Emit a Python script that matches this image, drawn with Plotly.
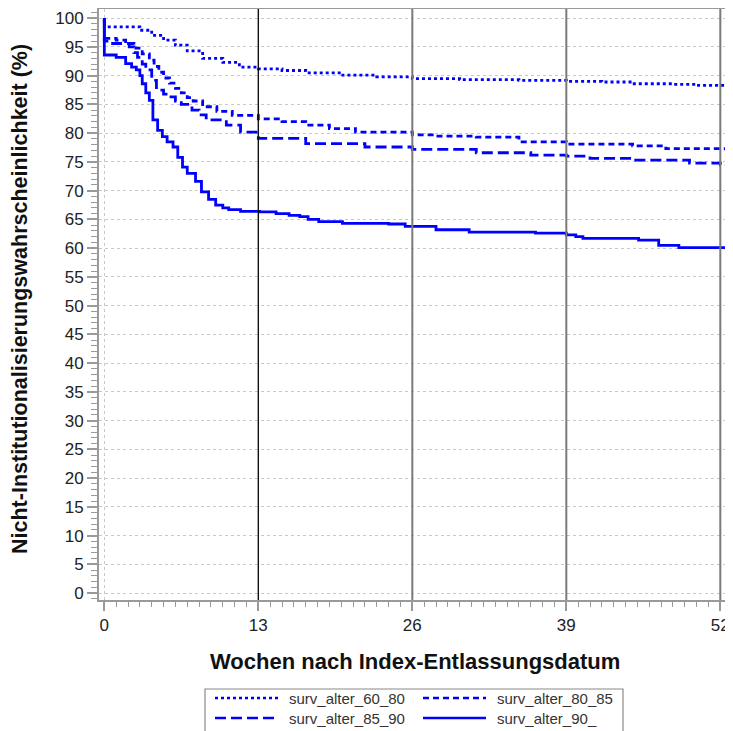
import plotly.graph_objects as go

weeks_60_80 = [0, 0, 3.0, 4.0, 5.0, 6.0, 7.0, 8.3, 10.0, 11.4, 13.0, 15.0, 17.0, 20.0, 23.0, 26.0, 30.0, 35.0, 39.0, 42.0, 44.6, 48.0, 50.0, 52.5]
surv_60_80 = [100, 98.5, 97.9, 97.0, 96.2, 95.3, 94.3, 93.0, 92.3, 91.5, 91.2, 90.9, 90.5, 90.1, 89.8, 89.5, 89.3, 89.2, 89.0, 88.9, 88.6, 88.5, 88.3, 88.2]

weeks_80_85 = [0, 0, 1.0, 1.8, 2.5, 3.2, 3.8, 4.2, 4.6, 5.0, 5.5, 6.0, 6.5, 7.0, 7.5, 8.3, 9.5, 10.8, 13.0, 15.0, 17.0, 19.0, 21.2, 26.0, 28.0, 31.4, 35.0, 39.0, 44.6, 47.4, 52.5]
surv_80_85 = [100, 96.5, 96.2, 95.6, 94.8, 93.8, 92.7, 91.6, 90.6, 89.6, 88.7, 87.8, 87.0, 86.2, 85.6, 84.6, 83.8, 83.1, 82.5, 82.0, 81.4, 80.8, 80.2, 79.7, 79.5, 79.3, 78.5, 78.1, 77.8, 77.3, 76.9]

weeks_85_90 = [0, 0, 0.7, 2.1, 2.5, 2.8, 3.2, 3.5, 4.0, 4.4, 5.0, 5.5, 6.0, 6.5, 7.4, 8.0, 8.6, 10.3, 11.5, 13.0, 17.0, 22.0, 26.0, 31.4, 36.0, 39.0, 41.0, 44.6, 49.4, 52.0, 52.5]
surv_85_90 = [100, 96.0, 95.6, 95.0, 94.0, 93.2, 92.0, 91.0, 89.2, 87.5, 86.8, 86.3, 85.6, 85.0, 84.0, 83.2, 82.3, 81.4, 80.2, 79.1, 78.2, 77.6, 77.2, 76.6, 76.2, 76.0, 75.6, 75.3, 74.8, 74.5, 74.3]

weeks_90 = [0, 0, 1.0, 1.8, 2.3, 2.7, 3.0, 3.2, 3.5, 3.8, 4.1, 4.5, 4.9, 5.3, 5.8, 6.2, 6.6, 7.0, 7.7, 8.2, 8.8, 9.4, 10.0, 10.5, 11.5, 13.1, 14.5, 15.6, 16.5, 17.2, 18.1, 20.1, 24.0, 25.4, 28.0, 30.8, 36.4, 39.0, 39.8, 40.4, 45.1, 46.8, 48.5, 52.5]
surv_90 = [100, 93.6, 93.2, 92.1, 91.5, 91.0, 90.0, 88.6, 87.0, 85.7, 82.3, 80.5, 79.4, 78.5, 77.6, 75.8, 74.1, 73.0, 71.6, 69.8, 68.5, 67.5, 67.0, 66.7, 66.4, 66.3, 66.0, 65.7, 65.5, 65.0, 64.6, 64.3, 64.2, 63.8, 63.2, 62.8, 62.6, 62.3, 62.0, 61.7, 61.4, 60.5, 60.1, 60.1]

series_names = ["surv_alter_60_80", "surv_alter_80_85", "surv_alter_85_90", "surv_alter_90_"]
series_x = [weeks_60_80, weeks_80_85, weeks_85_90, weeks_90]
series_y = [surv_60_80, surv_80_85, surv_85_90, surv_90]
dashes = ["3px,3px", "6px,4px", "11px,5px", "solid"]

ref_weeks = [13, 26, 39, 52]
ref_colors = ["#111111", "#7a7a7a", "#7a7a7a", "#7a7a7a"]
x_ticks = [0, 13, 26, 39, 52]
y_ticks = list(range(0, 101, 5))

# page has an 8px body margin: figure is offset by 8px
OFF = 8
W, H = 733 - OFF, 731 - OFF
# plot frame in page pixels: left 99, right 728, top 9, bottom 600
L = 99 - OFF
T = 9 - OFF
R = W - (728 - OFF)
B = H - (600 - OFF)
PW, PH = W - L - R, H - T - B


def px_x(p):
    return (p - OFF - L) / PW


def px_y(p):
    return (H - B - (p - OFF)) / PH


BLUE = "#0000ff"
fig = go.Figure()
for name, xs, ys, d in zip(series_names, series_x, series_y, dashes):
    fig.add_trace(go.Scatter(x=xs, y=ys, mode="lines", name=name, line_shape="hv",
                             line=dict(color=BLUE, width=2.8, dash=d), showlegend=False))

for w, c in zip(ref_weeks, ref_colors):
    fig.add_shape(type="line", xref="x", yref="paper", x0=w, x1=w, y0=0, y1=1,
                  line=dict(color=c, width=1.4 if c == "#111111" else 2.0), layer="above")

# manual legend (2 columns, box cut by bottom edge)
fig.add_shape(type="rect", xref="paper", yref="paper", x0=px_x(205), x1=px_x(623),
              y0=px_y(750), y1=px_y(689), line=dict(color="#8a8a8a", width=1.2), fillcolor="rgba(0,0,0,0)")
cols = [(215, 287), (423, 495)]
rows = [698, 718]
font = "Liberation Sans, Arial, sans-serif"
for i, (name, d) in enumerate(zip(series_names, dashes)):
    r, c = divmod(i, 2)
    sx, tx = cols[c]
    sy = rows[r]
    fig.add_shape(type="line", xref="paper", yref="paper", x0=px_x(sx), x1=px_x(sx + 63),
                  y0=px_y(sy), y1=px_y(sy), line=dict(color=BLUE, width=2.6, dash=d))
    fig.add_annotation(xref="paper", yref="paper", x=px_x(tx), y=px_y(sy), text=name,
                       showarrow=False, xanchor="left", yanchor="middle",
                       font=dict(size=15, color="#333333", family=font))

fig.add_annotation(xref="paper", yref="paper", x=px_x(415), y=px_y(661),
                   text="<b>Wochen nach Index-Entlassungsdatum</b>", showarrow=False,
                   xanchor="center", yanchor="middle", font=dict(size=22, color="#111111", family=font))
fig.add_annotation(xref="paper", yref="paper", x=px_x(20), y=px_y(299),
                   text="<b>Nicht-Institutionalisierungswahrscheinlichkeit (%)</b>", showarrow=False,
                   textangle=-90, xanchor="center", yanchor="middle",
                   font=dict(size=21.5, color="#111111", family=font))

fig.update_layout(
    width=W, height=H,
    margin=dict(l=L, r=R, t=T, b=B),
    plot_bgcolor="white", paper_bgcolor="white",
    font=dict(family=font, color="#222222", size=17),
    showlegend=False,
    xaxis=dict(range=[-0.45, 52.65], tickvals=x_ticks, showgrid=True, gridcolor="#c8c8c8",
               griddash="dot", gridwidth=1, zeroline=False, automargin=False,
               showline=True, linecolor="#9a9a9a", linewidth=2, mirror=True,
               ticks="outside", ticklen=9, tickcolor="#9a9a9a", tickwidth=1.5,
               minor=dict(dtick=1, tick0=0, ticks="outside", ticklen=5, tickcolor="#9a9a9a", tickwidth=1.2, showgrid=False),
               tickfont=dict(size=17)),
    yaxis=dict(range=[-1.2, 101.6], tickvals=y_ticks, showgrid=True, gridcolor="#c8c8c8",
               griddash="dot", gridwidth=1, zeroline=False, automargin=False,
               showline=True, linecolor="#9a9a9a", linewidth=2, mirror=True,
               ticks="outside", ticklen=10, tickcolor="#9a9a9a", tickwidth=1.5,
               minor=dict(dtick=1, tick0=0, ticks="outside", ticklen=6, tickcolor="#9a9a9a", tickwidth=1.2, showgrid=False),
               tickfont=dict(size=17)),
)

fig.write_html("out.html")
